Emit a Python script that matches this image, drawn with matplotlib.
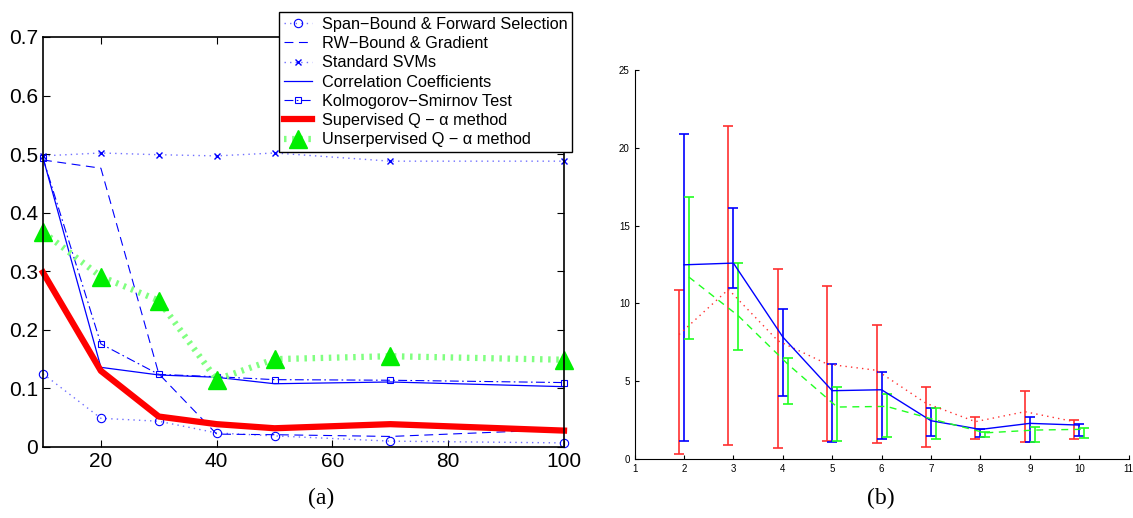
import matplotlib
matplotlib.use("Agg")
import matplotlib.pyplot as plt
import numpy as np

plt.rcParams['font.family'] = ['Liberation Sans', 'DejaVu Sans']

# (a) error rate vs number of features
n_feat = [10, 20, 30, 40, 50, 70, 100]
span_fs = [0.125, 0.049, 0.044, 0.024, 0.019, 0.010, 0.007]
rw_grad = [0.490, 0.476, 0.125, 0.022, 0.021, 0.018, 0.030]
std_svm = [0.497, 0.502, 0.499, 0.497, 0.502, 0.488, 0.488]
corr_coef = [0.494, 0.136, 0.123, 0.119, 0.108, 0.111, 0.103]
ks_test = [0.493, 0.176, 0.124, 0.120, 0.115, 0.114, 0.110]
sup_qa = [0.298, 0.130, 0.052, 0.039, 0.032, 0.039, 0.028]
unsup_qa = [0.367, 0.291, 0.250, 0.115, 0.150, 0.155, 0.149]

# (b) mean and range per setting for three runs
k = np.arange(2, 11)
red_mean = [8.0, 10.9, 7.6, 6.1, 5.7, 3.58, 2.40, 3.04, 2.40]
red_low = [0.34, 0.88, 0.71, 1.13, 1.03, 0.79, 1.27, 1.11, 1.27]
red_high = [10.83, 21.37, 12.21, 11.13, 8.63, 4.61, 2.68, 4.39, 2.51]
blue_mean = [12.48, 12.59, 7.84, 4.39, 4.45, 2.46, 1.90, 2.29, 2.18]
blue_low = [1.18, 10.98, 4.03, 1.11, 1.28, 1.48, 1.44, 1.11, 1.50]
blue_high = [20.88, 16.12, 9.64, 6.12, 5.59, 3.26, 1.95, 2.72, 2.22]
green_mean = [11.69, 9.2, 6.1, 3.34, 3.38, 2.5, 1.68, 1.86, 1.91]
green_low = [7.71, 6.98, 3.55, 1.13, 1.41, 1.27, 1.39, 1.11, 1.35]
green_high = [16.87, 12.59, 6.49, 4.63, 4.20, 3.26, 1.72, 2.08, 1.97]

fig = plt.figure(figsize=(11.33, 5.18), dpi=100)

ax = fig.add_axes([43/1133, 71/518, 521/1133, 410/518])
lb = '#6f6fff'
ax.plot(n_feat, span_fs, color=lb, ls=(0, (1, 3)), lw=1, marker='o', ms=6,
        mfc='none', mec='b', mew=0.8, label='Span\u2212Bound & Forward Selection')
ax.plot(n_feat, rw_grad, color='b', ls=(0, (8, 5)), lw=0.8,
        label='RW\u2212Bound & Gradient')
ax.plot(n_feat, std_svm, color=lb, ls=(0, (1, 3)), lw=1, marker='x', ms=4,
        mec='b', mew=1, label='Standard SVMs')
ax.plot(n_feat, corr_coef, color='b', ls='-', lw=0.9, label='Correlation Coefficients')
ax.plot(n_feat, ks_test, color='b', ls=(0, (8, 3, 1.5, 3)), lw=0.8, marker='s', ms=5,
        mfc='none', mec='b', mew=0.8, label='Kolmogorov\u2212Smirnov Test')
ax.plot(n_feat, sup_qa, color='#ff0000', ls='-', lw=4.5, label='Supervised Q \u2212 \u03b1 method')
ax.plot(n_feat, unsup_qa, color='#80ff80', ls=(0, (0.4, 0.9)), lw=4.5, dash_capstyle='butt',
        marker='^', ms=12.5, mfc='#00ee00', mec='#00ee00',
        label='Unserpervised Q \u2212 \u03b1 method')
for ln in ax.get_lines():
    ln.set_clip_on(False)
ax.set_xlim(10, 100)
ax.set_ylim(0, 0.7)
ax.set_xticks([20, 40, 60, 80, 100])
ax.set_yticks(np.arange(0, 0.71, 0.1))
ax.set_yticklabels(['0', '0.1', '0.2', '0.3', '0.4', '0.5', '0.6', '0.7'])
ax.tick_params(direction='in', top=True, right=True, labelsize=15, length=5, width=0.8)
for s in ax.spines.values():
    s.set_linewidth(1.2)

leg = fig.legend(loc='upper right', bbox_to_anchor=(572/1133, 1 - 12/518),
                 fontsize=11.7, frameon=True, fancybox=False, edgecolor='black',
                 framealpha=1, handlelength=1.7, handletextpad=0.6, labelspacing=0.26,
                 borderpad=0.3, borderaxespad=0)
leg.get_frame().set_linewidth(1.0)
leg.set_zorder(10)

fig.text(321/1133, 1 - 498/518, '(a)', family='Liberation Serif', fontsize=17,
         ha='center', va='center')

bx = fig.add_axes([634.6/1133, 59/518, 494/1133, 389/518])


def bars(xs, mean, low, high, color, ls):
    mean = np.array(mean)
    err = [mean - np.array(low), np.array(high) - mean]
    bx.errorbar(xs, mean, yerr=err, color=color, ls=ls, lw=1, elinewidth=1.2,
                capsize=3.5, capthick=1.2)


bars(k - 0.1, red_mean, red_low, red_high, '#ff3030', (0, (1, 3)))
bars(k, blue_mean, blue_low, blue_high, '#0000ff', '-')
bars(k + 0.1, green_mean, green_low, green_high, '#20ff20', (0, (5, 4)))
bx.set_xlim(1, 11)
bx.set_ylim(0, 25)
bx.set_xticks(range(1, 12))
bx.set_yticks(range(0, 26, 5))
bx.spines['top'].set_visible(False)
bx.spines['right'].set_visible(False)
bx.tick_params(direction='in', labelsize=7, length=3, width=0.8)

fig.text(881/1133, 1 - 498/518, '(b)', family='Liberation Serif', fontsize=17,
         ha='center', va='center')

fig.savefig('out.png', dpi=100)
